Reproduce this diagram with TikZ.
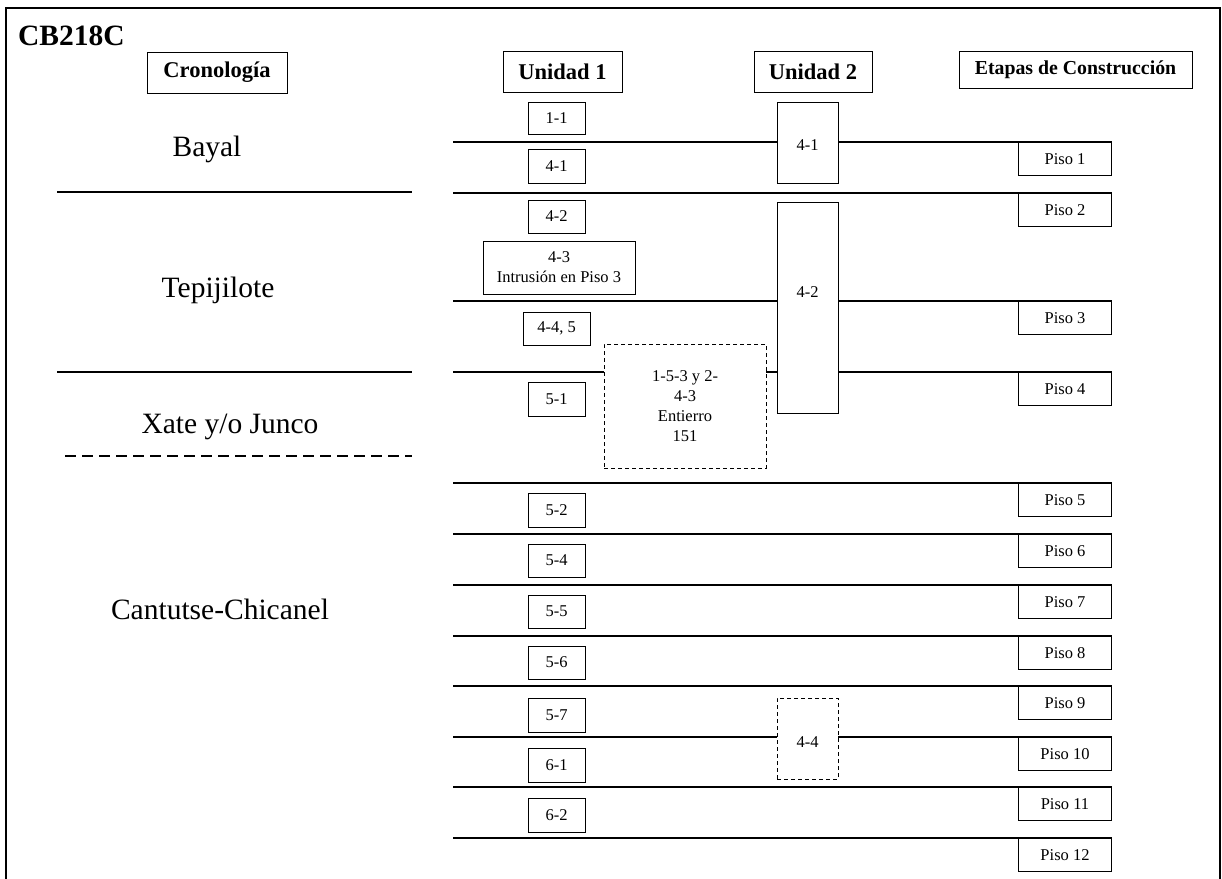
\documentclass[tikz,border=0pt]{standalone}
\usepackage{fontspec}
\setmainfont{Liberation Serif}
\begin{document}
\begin{tikzpicture}[x=1pt,y=-1pt,
  big/.style={font=\fontsize{29.5}{34}\selectfont, inner sep=0pt},
  head/.style={draw, line width=1pt, inner sep=0pt, font=\bfseries\fontsize{22.5}{26}\selectfont},
  small/.style={font=\fontsize{16.5}{20}\selectfont},
  sbox/.style={draw, line width=1pt, inner sep=0pt, minimum width=57pt, minimum height=33pt, small},
  piso/.style={draw, line width=1pt, inner sep=0pt, minimum width=93pt, minimum height=33pt, small, anchor=north west},
  ubox/.style={draw, line width=0.8pt, inner sep=0pt, minimum width=61pt, small},
  dbox/.style={draw, dash pattern=on 4pt off 3pt, line width=0.8pt, inner sep=0pt, small, align=center},
  sep/.style={line width=1.2pt},
  era/.style={line width=2.5pt}
]
\useasboundingbox (0,0) rectangle (1222,878);
\fill[white] (0,0) rectangle (1222,878);
% frame
\draw[line width=2.4pt] (6,880) -- (6,8) -- (1220,8) -- (1220,880);

% title and headers
\node[font=\bfseries\fontsize{29.5}{34}\selectfont, inner sep=0pt, anchor=base west] (title) at (18,45) {CB218C};
\node[head, minimum width=140pt, minimum height=41pt] (hcron) at (217,72.5) {Cronología};
\node[head, minimum width=119pt, minimum height=41pt] (hu1) at (562.5,71.5) {Unidad 1};
\node[head, minimum width=118pt, minimum height=41pt] (hu2) at (813,71.5) {Unidad 2};
\node[draw, line width=1pt, inner sep=0pt, minimum width=233pt, minimum height=37pt, font=\bfseries\fontsize{19.8}{24}\selectfont] (hetapas) at (1075.5,69.5) {Etapas de Construcción};

% chronology
\node[big, anchor=base] (bayal) at (207,156) {Bayal};
\node[big, anchor=base] (tepi) at (218,297) {Tepijilote};
\node[big, anchor=base] (xate) at (230,433) {Xate y/o Junco};
\node[big, anchor=base] (cant) at (220,619) {Cantutse-Chicanel};
\coordinate (e1a) at (57,192); \coordinate (e1b) at (412,192);
\coordinate (e2a) at (57,372); \coordinate (e2b) at (412,372);
\coordinate (e3a) at (65,456); \coordinate (e3b) at (412,456);
\draw[era] (e1a) -- (e1b);
\draw[era] (e2a) -- (e2b);
\draw[era, dash pattern=on 11pt off 6pt] (e3a) -- (e3b);

% Unidad 1 boxes
\node[sbox, minimum height=32pt] (b11) at (556.5,118) {1-1};
\node[sbox, minimum height=34pt] (b41) at (556.5,166) {4-1};
\node[sbox] (b42) at (556.5,216.5) {4-2};
\node[draw, line width=1pt, inner sep=0pt, minimum width=152pt, minimum height=53pt, small, align=center] (b43) at (559,267.5) {4-3\\Intrusión en Piso 3};
\node[sbox, minimum width=67pt] (b445) at (556.5,328.5) {4-4, 5};
\node[sbox, minimum height=34pt] (b51) at (556.5,399) {5-1};
\node[sbox, minimum height=34pt] (b52) at (556.5,510) {5-2};
\node[sbox] (b54) at (556.5,560.5) {5-4};
\node[sbox] (b55) at (556.5,611.5) {5-5};
\node[sbox] (b56) at (556.5,662.5) {5-6};
\node[sbox, minimum height=34pt] (b57) at (556.5,715) {5-7};
\node[sbox, minimum height=34pt] (b61) at (556.5,765) {6-1};
\node[sbox, minimum height=34pt] (b62) at (556.5,815) {6-2};

% burial
\node[dbox, minimum width=162pt, minimum height=124pt] (ent) at (685,406) {1-5-3 y 2-\\4-3\\Entierro\\151};

% Unidad 2 boxes
\node[ubox, minimum height=81pt] (u241) at (807.5,142.5) {};
\node[small, inner sep=0pt] (u241t) at ([yshift=-3pt]u241.center) {4-1};
\node[ubox, minimum height=211pt] (u242) at (807.5,307.5) {};
\node[small, inner sep=0pt] (u242t) at ([yshift=15pt]u242.center) {4-2};
\node[dbox, minimum width=61pt, minimum height=81pt] (u244) at (807.5,738.5) {};
\node[small, inner sep=0pt] (u244t) at ([yshift=-4pt]u244.center) {4-4};

% Piso boxes
\node[piso] (p1) at (1018,142) {Piso 1};
\node[piso] (p2) at (1018,193) {Piso 2};
\node[piso] (p3) at (1018,301) {Piso 3};
\node[piso] (p4) at (1018,372) {Piso 4};
\node[piso] (p5) at (1018,483) {Piso 5};
\node[piso] (p6) at (1018,534) {Piso 6};
\node[piso] (p7) at (1018,585) {Piso 7};
\node[piso] (p8) at (1018,636) {Piso 8};
\node[piso] (p9) at (1018,686) {Piso 9};
\node[piso] (p10) at (1018,737) {Piso 10};
\node[piso] (p11) at (1018,787) {Piso 11};
\node[piso] (p12) at (1018,838) {Piso 12};

% floor lines
\foreach \n/\y in {1/142,2/193,3/301,4/372,5/483,6/534,7/585,8/636,9/686,10/737,11/787,12/838}
  \coordinate (l\n) at (453,\y);
\draw[sep] (l1) -- (l1 -| u241.west);
\draw[sep] (u241.east |- l1) -- (p1.north east);
\draw[sep] (l2) -- (p2.north east);
\draw[sep] (l3) -- (l3 -| u242.west);
\draw[sep] (u242.east |- l3) -- (p3.north east);
\draw[sep] (l4) -- (l4 -| ent.west);
\draw[sep] (ent.east |- l4) -- (l4 -| u242.west);
\draw[sep] (u242.east |- l4) -- (p4.north east);
\draw[sep] (l5) -- (p5.north east);
\draw[sep] (l6) -- (p6.north east);
\draw[sep] (l7) -- (p7.north east);
\draw[sep] (l8) -- (p8.north east);
\draw[sep] (l9) -- (p9.north east);
\draw[sep] (l10) -- (l10 -| u244.west);
\draw[sep] (u244.east |- l10) -- (p10.north east);
\draw[sep] (l11) -- (p11.north east);
\draw[sep] (l12) -- (p12.north east);
\end{tikzpicture}
\end{document}
